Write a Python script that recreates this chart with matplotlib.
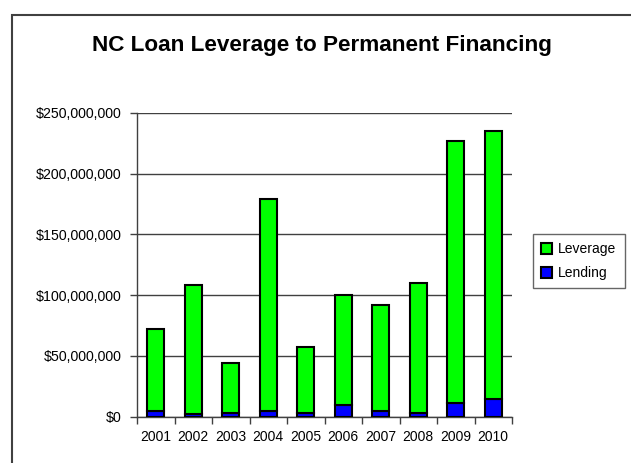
import matplotlib
matplotlib.use("Agg")
import matplotlib.pyplot as plt
from matplotlib.patches import Rectangle
from matplotlib.ticker import FuncFormatter, FixedLocator
import numpy as np

plt.rcParams['font.family'] = ['Liberation Sans', 'DejaVu Sans']

years = ["2001", "2002", "2003", "2004", "2005", "2006", "2007", "2008", "2009", "2010"]
lending = [4.4e6, 1.9e6, 3.0e6, 4.4e6, 3.0e6, 9.6e6, 4.4e6, 3.0e6, 11.0e6, 14.3e6]
leverage = [67.7e6, 106.4e6, 41.3e6, 174.8e6, 54.5e6, 90.7e6, 87.7e6, 107.0e6, 216.0e6, 220.7e6]
yticks = [0, 50e6, 100e6, 150e6, 200e6, 250e6]

W, H = 631, 463
fig = plt.figure(figsize=(W / 100, H / 100), dpi=100)
fig.patch.set_facecolor("white")

# outer chart frame (left and top visible)
frame = Rectangle((12 / W, -0.05), 1.2, (H - 15) / H + 0.05, transform=fig.transFigure,
                  fill=False, edgecolor="#404040", linewidth=1.5, clip_on=False)
fig.patches.append(frame)

ax = fig.add_axes([137 / W, (H - 416.5) / H, (512 - 137) / W, (416.5 - 113) / H])
x = np.arange(len(years))
bw = 0.45
ax.bar(x, lending, width=bw, color="#0000FF", edgecolor="black", linewidth=1.5, label="Lending", zorder=3)
ax.bar(x, leverage, width=bw, bottom=lending, color="#00FF00", edgecolor="black", linewidth=1.5,
       label="Leverage", zorder=3)

ax.set_xlim(-0.5, len(years) - 0.5)
ax.set_ylim(0, 250e6)
ax.set_yticks(yticks)
ax.yaxis.set_major_formatter(FuncFormatter(lambda v, p: "${:,.0f}".format(v)))
ax.set_xticks(x)
ax.set_xticklabels(years)
ax.xaxis.set_minor_locator(FixedLocator(np.arange(-0.5, len(years), 1.0)))
ax.tick_params(axis="x", which="major", length=0, pad=10, labelsize=10, colors="black")
ax.tick_params(axis="x", which="minor", length=5, width=1, color="#404040")
ax.tick_params(axis="y", length=5, width=1, color="#404040", labelsize=10.2, labelcolor="black", pad=6)

ax.grid(axis="y", color="#404040", linewidth=1, zorder=0)
for s in ["top", "right"]:
    ax.spines[s].set_visible(False)
for s in ["left", "bottom"]:
    ax.spines[s].set_color("#404040")
    ax.spines[s].set_linewidth(1)

fig.text(322 / W, 1 - 45.5 / H, "NC Loan Leverage to Permanent Financing", ha="center", va="center",
         fontsize=16.2, fontweight="bold")

handles, labels = ax.get_legend_handles_labels()
leg = fig.legend(handles[::-1], labels[::-1], loc="upper left",
                 bbox_to_anchor=(533 / W, 1 - 234 / H), frameon=True, fancybox=False,
                 edgecolor="#404040", fontsize=10, handlelength=0.8, handleheight=0.8,
                 handletextpad=0.4, borderpad=0.6, labelspacing=0.7, borderaxespad=0)
leg.get_frame().set_linewidth(1)

fig.savefig("out.png", dpi=100)
